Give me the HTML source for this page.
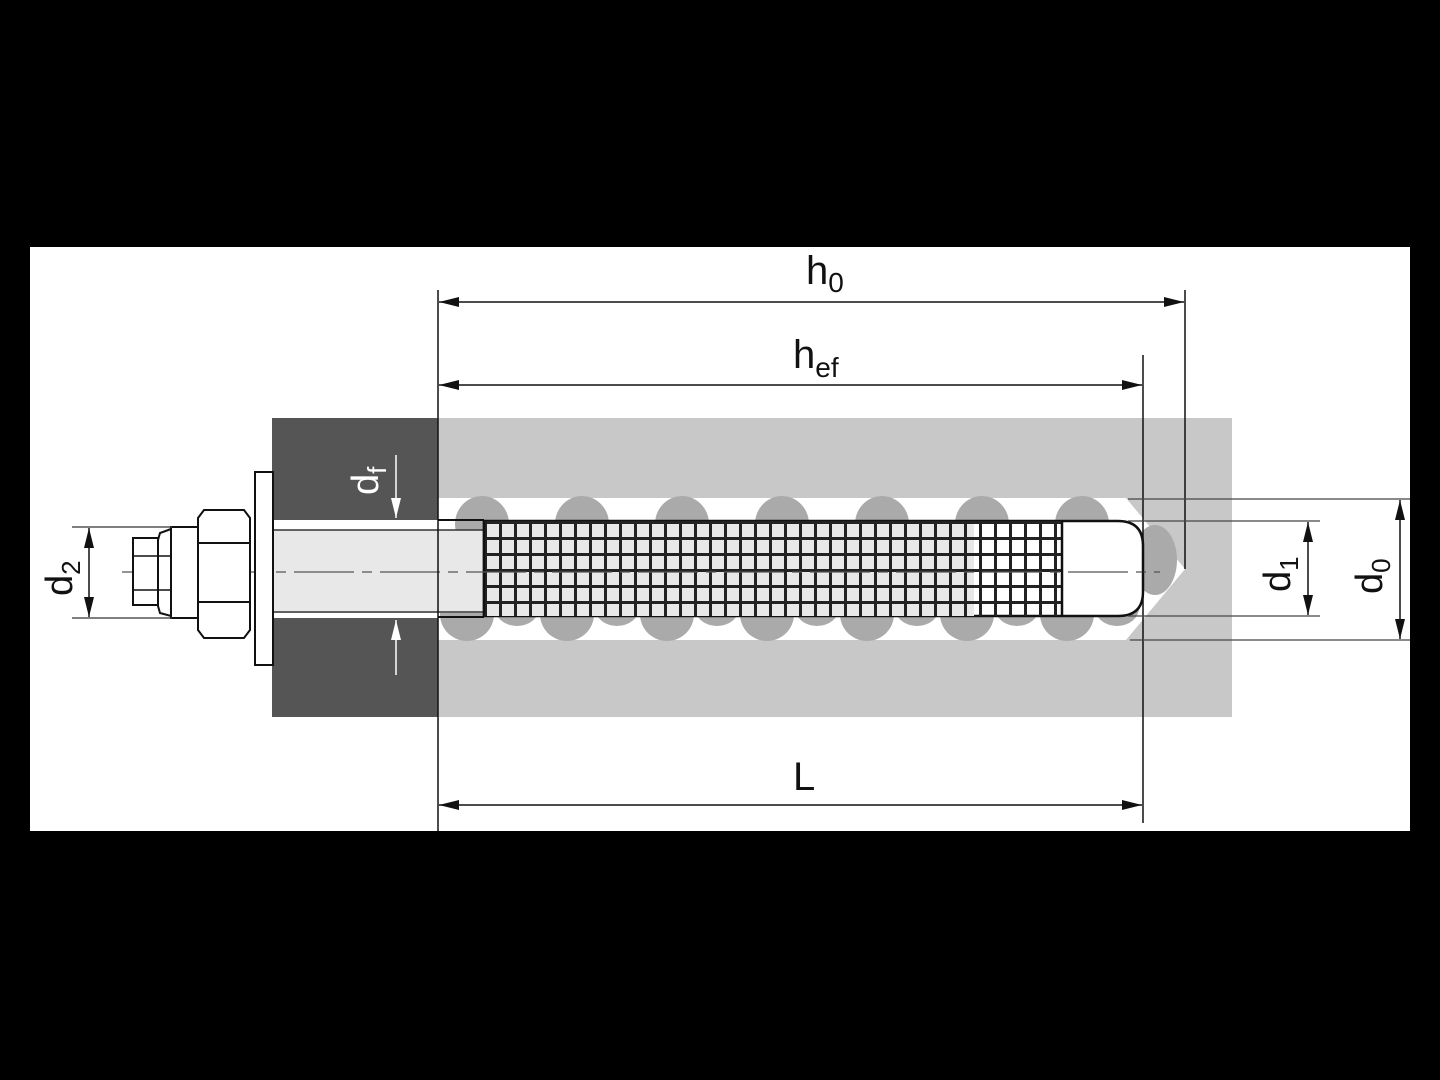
<!DOCTYPE html>
<html><head><style>html,body{margin:0;padding:0;background:#000;}svg{display:block}</style></head>
<body>
<svg width="1440" height="1080" viewBox="0 0 1440 1080" xmlns="http://www.w3.org/2000/svg">
<defs>
<pattern id="mesh" x="484" y="521" width="15" height="16" patternUnits="userSpaceOnUse">
<rect x="0" y="0" width="3" height="16" fill="#222"/>
<rect x="0" y="0" width="15" height="3" fill="#222"/>
</pattern>
<marker id="a" viewBox="0 0 20 10" refX="20" refY="5" markerWidth="20" markerHeight="10" markerUnits="userSpaceOnUse" orient="auto"><path d="M0,0 L20,5 L0,10 Z" fill="#111"/></marker>
<marker id="w" viewBox="0 0 20 10" refX="20" refY="5" markerWidth="20" markerHeight="10" markerUnits="userSpaceOnUse" orient="auto"><path d="M0,0 L20,5 L0,10 Z" fill="#fff"/></marker>
</defs>
<rect x="0" y="0" width="1440" height="1080" fill="#000"/>
<rect x="30" y="247" width="1380" height="584" fill="#fff"/>
<!-- concrete -->
<rect x="438" y="418" width="794" height="299" fill="#c8c8c8"/>
<path d="M438,498 L1126,498 L1185,569 L1126,640 L438,640 Z" fill="#fff"/>
<!-- plate -->
<rect x="272" y="418" width="166" height="299" fill="#555"/>
<rect x="272" y="520" width="166" height="98" fill="#fff"/>
<!-- blobs -->
<g fill="#aaa">
<ellipse cx="482" cy="524" rx="27" ry="28"/><ellipse cx="582" cy="524" rx="27" ry="28"/><ellipse cx="682" cy="524" rx="27" ry="28"/><ellipse cx="782" cy="524" rx="27" ry="28"/><ellipse cx="882" cy="524" rx="27" ry="28"/><ellipse cx="982" cy="524" rx="27" ry="28"/><ellipse cx="1082" cy="524" rx="27" ry="28"/>
<ellipse cx="467" cy="614" rx="27" ry="27"/><ellipse cx="567" cy="614" rx="27" ry="27"/><ellipse cx="667" cy="614" rx="27" ry="27"/><ellipse cx="767" cy="614" rx="27" ry="27"/><ellipse cx="867" cy="614" rx="27" ry="27"/><ellipse cx="967" cy="614" rx="27" ry="27"/><ellipse cx="1067" cy="614" rx="27" ry="27"/>
<ellipse cx="517" cy="608" rx="22" ry="18"/><ellipse cx="617" cy="608" rx="22" ry="18"/><ellipse cx="717" cy="608" rx="22" ry="18"/><ellipse cx="817" cy="608" rx="22" ry="18"/><ellipse cx="917" cy="608" rx="22" ry="18"/><ellipse cx="1017" cy="608" rx="22" ry="18"/><ellipse cx="1117" cy="608" rx="22" ry="18"/>
<ellipse cx="1155" cy="560" rx="22" ry="35"/>
</g>
<!-- rod -->
<rect x="274" y="530" width="210" height="83" fill="#e8e8e8"/>
<line x1="274" y1="530" x2="484" y2="530" stroke="#333" stroke-width="1.5"/>
<line x1="274" y1="612" x2="484" y2="612" stroke="#333" stroke-width="1.5"/>
<line x1="438" y1="520" x2="484" y2="520" stroke="#111" stroke-width="2"/>
<line x1="438" y1="617" x2="484" y2="617" stroke="#111" stroke-width="2"/>
<!-- sleeve -->
<path d="M484,521 L1118,521 Q1143,521 1143,546 L1143,592 Q1143,616 1118,616 L484,616 Z" fill="#fff" stroke="#111" stroke-width="2.5"/>
<rect x="484" y="521" width="490" height="95" fill="#e8e8e8"/>
<rect x="484" y="521" width="578" height="95" fill="url(#mesh)"/>
<line x1="1062" y1="521" x2="1062" y2="616" stroke="#111" stroke-width="2.5"/>
<line x1="484" y1="521" x2="484" y2="616" stroke="#111" stroke-width="2.5"/>
<!-- centerline -->
<line x1="122" y1="572" x2="1160" y2="572" stroke="#555" stroke-width="1.2" stroke-dasharray="60,8,10,8"/>
<!-- washer -->
<rect x="255" y="472" width="18" height="193" fill="#fff" stroke="#111" stroke-width="2"/>
<!-- hex nut -->
<path d="M204,510 L244,510 L250,518 L250,630 L244,638 L204,638 L198,630 L198,518 Z" fill="#fff" stroke="#111" stroke-width="2"/>
<line x1="198" y1="543" x2="250" y2="543" stroke="#111" stroke-width="2"/>
<line x1="198" y1="602" x2="250" y2="602" stroke="#111" stroke-width="2"/>
<!-- cap -->
<rect x="171" y="527" width="27" height="91" fill="#fff" stroke="#111" stroke-width="2"/>
<path d="M171,529 L160,533 L158,540 L158,606 L160,613 L171,616 Z" fill="#fff" stroke="#111" stroke-width="2"/>
<rect x="133" y="538" width="25" height="67" fill="#fff" stroke="#111" stroke-width="2"/>
<line x1="133" y1="556" x2="171" y2="556" stroke="#111" stroke-width="1.5"/>
<line x1="133" y1="590" x2="171" y2="590" stroke="#111" stroke-width="1.5"/>
<!-- d2 dim -->
<line x1="72" y1="527" x2="172" y2="527" stroke="#333" stroke-width="1.2"/>
<line x1="72" y1="618" x2="172" y2="618" stroke="#333" stroke-width="1.2"/>
<line x1="89" y1="572" x2="89" y2="528" stroke="#111" stroke-width="1.5" marker-end="url(#a)"/>
<line x1="89" y1="572" x2="89" y2="617" stroke="#111" stroke-width="1.5" marker-end="url(#a)"/>
<text transform="translate(72,596) rotate(-90)" font-family="Liberation Sans, sans-serif" font-size="38" fill="#111">d<tspan font-size="26" dy="8">2</tspan></text>
<!-- df -->
<line x1="396" y1="455" x2="396" y2="518" stroke="#fff" stroke-width="1.5" marker-end="url(#w)"/>
<line x1="396" y1="675" x2="396" y2="620" stroke="#fff" stroke-width="1.5" marker-end="url(#w)"/>
<text transform="translate(378,495) rotate(-90)" font-family="Liberation Sans, sans-serif" font-size="38" fill="#fff">d<tspan font-size="26" dy="8">f</tspan></text>
<!-- extension lines -->
<line x1="438" y1="290" x2="438" y2="831" stroke="#111" stroke-width="1.5"/>
<line x1="1143" y1="355" x2="1143" y2="823" stroke="#111" stroke-width="1.5"/>
<line x1="1185" y1="290" x2="1185" y2="569" stroke="#111" stroke-width="1.5"/>
<!-- h0 -->
<line x1="800" y1="302" x2="439" y2="302" stroke="#111" stroke-width="1.5" marker-end="url(#a)"/>
<line x1="800" y1="302" x2="1184" y2="302" stroke="#111" stroke-width="1.5" marker-end="url(#a)"/>
<text x="806" y="284" font-family="Liberation Sans, sans-serif" font-size="40" fill="#111">h<tspan font-size="28" dy="8">0</tspan></text>
<!-- hef -->
<line x1="800" y1="385" x2="439" y2="385" stroke="#111" stroke-width="1.5" marker-end="url(#a)"/>
<line x1="800" y1="385" x2="1142" y2="385" stroke="#111" stroke-width="1.5" marker-end="url(#a)"/>
<text x="793" y="368" font-family="Liberation Sans, sans-serif" font-size="40" fill="#111">h<tspan font-size="28" dy="9">ef</tspan></text>
<!-- L -->
<line x1="800" y1="805" x2="439" y2="805" stroke="#111" stroke-width="1.5" marker-end="url(#a)"/>
<line x1="800" y1="805" x2="1142" y2="805" stroke="#111" stroke-width="1.5" marker-end="url(#a)"/>
<text x="793" y="790" font-family="Liberation Sans, sans-serif" font-size="40" fill="#111">L</text>
<!-- d1 d0 -->
<line x1="1128" y1="521" x2="1320" y2="521" stroke="#444" stroke-width="1.2"/>
<line x1="1128" y1="616" x2="1320" y2="616" stroke="#444" stroke-width="1.2"/>
<line x1="1128" y1="499" x2="1410" y2="499" stroke="#444" stroke-width="1.2"/>
<line x1="1130" y1="640" x2="1410" y2="640" stroke="#444" stroke-width="1.2"/>
<line x1="1308" y1="568" x2="1308" y2="522" stroke="#111" stroke-width="1.5" marker-end="url(#a)"/>
<line x1="1308" y1="568" x2="1308" y2="615" stroke="#111" stroke-width="1.5" marker-end="url(#a)"/>
<line x1="1400" y1="568" x2="1400" y2="500" stroke="#111" stroke-width="1.5" marker-end="url(#a)"/>
<line x1="1400" y1="568" x2="1400" y2="639" stroke="#111" stroke-width="1.5" marker-end="url(#a)"/>
<text transform="translate(1290,592) rotate(-90)" font-family="Liberation Sans, sans-serif" font-size="38" fill="#111">d<tspan font-size="26" dy="8">1</tspan></text>
<text transform="translate(1382,594) rotate(-90)" font-family="Liberation Sans, sans-serif" font-size="38" fill="#111">d<tspan font-size="26" dy="8">0</tspan></text>
</svg>
</body></html>
